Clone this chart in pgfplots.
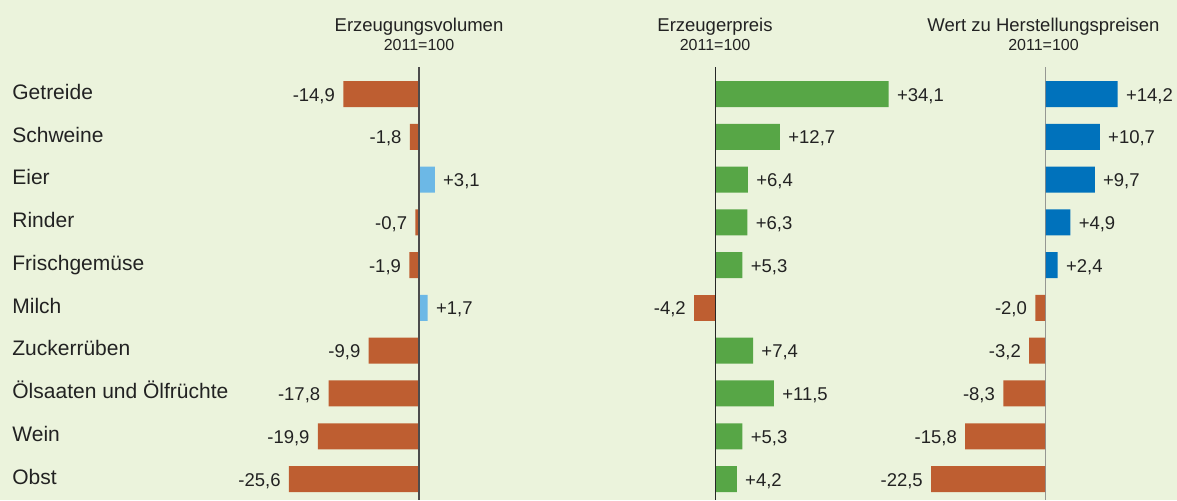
\documentclass[border=0pt]{standalone}
\usepackage{pgfplots}
\pgfplotsset{compat=1.18}
\usepackage{fontspec}
\setmainfont{Liberation Sans}
\definecolor{bg}{HTML}{EBF3DC}
\definecolor{negc}{HTML}{BE5E31}
\definecolor{lblue}{HTML}{6CB8E6}
\definecolor{grn}{HTML}{57A646}
\definecolor{blu}{HTML}{0072BC}
\definecolor{txt}{HTML}{222222}
\pgfplotsset{
  panel/.style={
    scale only axis, height=216.25pt,
    ymin=-0.63, ymax=9.48, y dir=reverse,
    bar width=13pt,
    axis line style={draw=none}, tick style={draw=none}, major tick length=0pt,
    xtick=\empty,
    clip=false,
    anchor=south west,
  },
  barbase/.style={xbar, draw=none, fill=#1, bar shift=0pt,
    point meta=explicit symbolic, nodes near coords,
    every node near coord/.append style={font=\fontsize{9.25}{11}\selectfont, text=txt, inner xsep=4pt, inner ysep=0pt}},
  pos/.style={barbase=#1, every node near coord/.append style={anchor=base west, yshift=-3.5pt}},
  neg/.style={barbase=#1, every node near coord/.append style={anchor=base east, yshift=-3.5pt}},
  zero/.style={draw=#1, sharp plot, mark=none, line width=0.65pt, point meta=none, forget plot},
}
\begin{document}
\begin{tikzpicture}
\fill[bg] (0,0) rectangle (588.5pt,250pt);
% Panel 1: Erzeugungsvolumen
\begin{axis}[panel, at={(6pt,0.225pt)}, width=228.9pt, xmin=-80.12, xmax=10,
  ytick={0,...,9},
  yticklabels={Getreide,Schweine,Eier,Rinder,Frischgemüse,Milch,Zuckerrüben,Ölsaaten und Ölfrüchte,Wein,Obst},
  yticklabel style={anchor=base west, yshift=-2.65pt, inner sep=0pt, font=\fontsize{10.5}{12}\selectfont, text=txt}]
\addplot[neg=negc] table[x=v, y=r, meta=l] {
r v l
0 -14.9 -14,9
1 -1.8 -1,8
3 -0.7 -0,7
4 -1.9 -1,9
6 -9.9 -9,9
7 -17.8 -17,8
8 -19.9 -19,9
9 -25.6 -25,6
};
\addplot[pos=lblue] table[x=v, y=r, meta=l] {
r v l
2 3.1 +3,1
5 1.7 +1,7
};
\addplot[zero=black!70] coordinates {(0,-0.63) (0,9.48)};
\end{axis}
% Panel 2: Erzeugerpreis
\begin{axis}[panel, at={(327.25pt,0.225pt)}, width=132.08pt, xmin=-12, xmax=40, ytick=\empty]
\addplot[pos=grn] table[x=v, y=r, meta=l] {
r v l
0 34.1 +34,1
1 12.7 +12,7
2 6.4 +6,4
3 6.3 +6,3
4 5.3 +5,3
6 7.4 +7,4
7 11.5 +11,5
8 5.3 +5,3
9 4.2 +4,2
};
\addplot[neg=negc] table[x=v, y=r, meta=l] {
r v l
5 -4.2 -4,2
};
\addplot[zero=black!85] coordinates {(0,-0.63) (0,9.48)};
\end{axis}
% Panel 3: Wert zu Herstellungspreisen
\begin{axis}[panel, at={(454.15pt,0.225pt)}, width=124.46pt, xmin=-27, xmax=22, ytick=\empty]
\addplot[pos=blu] table[x=v, y=r, meta=l] {
r v l
0 14.2 +14,2
1 10.7 +10,7
2 9.7 +9,7
3 4.9 +4,9
4 2.4 +2,4
};
\addplot[neg=negc] table[x=v, y=r, meta=l] {
r v l
5 -2.0 -2,0
6 -3.2 -3,2
7 -8.3 -8,3
8 -15.8 -15,8
9 -22.5 -22,5
};
\addplot[zero=black!50, opacity=0.8] coordinates {(0,-0.63) (0,9.48)};
\end{axis}
% Titles
\begin{scope}[every node/.style={anchor=base, text=txt, inner sep=0pt}]
\node[font=\fontsize{9.25}{11}\selectfont] at (209.5pt,234.15pt) {Erzeugungsvolumen};
\node[font=\fontsize{8}{10}\selectfont] at (209.5pt,224.65pt) {2011=100};
\node[font=\fontsize{9.25}{11}\selectfont] at (357.5pt,234.15pt) {Erzeugerpreis};
\node[font=\fontsize{8}{10}\selectfont] at (357.5pt,224.65pt) {2011=100};
\node[font=\fontsize{9.25}{11}\selectfont] at (521.75pt,234.15pt) {Wert zu Herstellungspreisen};
\node[font=\fontsize{8}{10}\selectfont] at (521.75pt,224.65pt) {2011=100};
\end{scope}
\pgfresetboundingbox
\path[use as bounding box] (0,0) rectangle (588.5pt,250pt);
\end{tikzpicture}
\end{document}
